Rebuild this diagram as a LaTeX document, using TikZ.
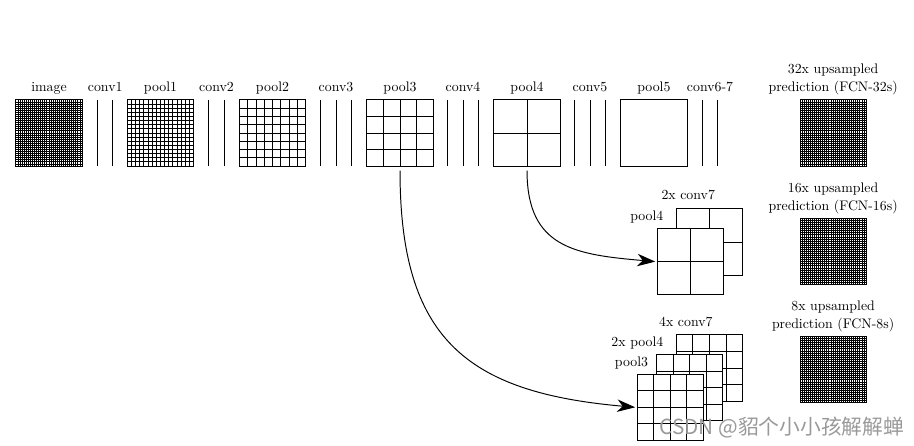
\documentclass[tikz,border=0pt]{standalone}
\usepackage{fontspec}
\newfontfamily\cjkfont{Noto Sans CJK SC}
\usetikzlibrary{arrows.meta, positioning, calc}

\begin{document}
\begin{tikzpicture}[
    >=Stealth,
    fmline/.style={line width=0.7pt},
    fmap/.style={rectangle, draw, fill=white, fmline, minimum size=1.68cm, inner sep=0pt},
    ncells/.style={path picture={
        \foreach \k in {1,...,#1} {
            \draw[fmline] ($(path picture bounding box.north west)!{\k/#1}!(path picture bounding box.north east)$)
                -- ($(path picture bounding box.south west)!{\k/#1}!(path picture bounding box.south east)$);
            \draw[fmline] ($(path picture bounding box.north west)!{\k/#1}!(path picture bounding box.south west)$)
                -- ($(path picture bounding box.north east)!{\k/#1}!(path picture bounding box.south east)$);
        }}},
    conv/.style={rectangle, minimum width=0.8cm, minimum height=1.68cm, inner sep=0pt},
    lbl/.style={text depth=0.5ex},
    arr/.style={-{Stealth[length=13pt, width=9pt, inset=4pt]}, line width=0.7pt, shorten <=3pt, shorten >=1pt},
]
\useasboundingbox (0,0) rectangle (23.215,11.328);

% the net, left to right
\node (image) at (1.245, 7.95) [fmap, ncells=32] {};
\node (conv1) at (2.672, 7.95) [conv] {};
\node (pool1) at (4.077, 7.95) [fmap, ncells=16] {};
\node (conv2) at (5.499, 7.95) [conv] {};
\node (pool2) at (6.922, 7.95) [fmap, ncells=8] {};
\node (conv3) at (8.534, 7.95) [conv] {};
\node (pool3) at (10.16, 7.95) [fmap, ncells=4] {};
\node (conv4) at (11.76, 7.95) [conv] {};
\node (pool4) at (13.386, 7.95) [fmap, ncells=2] {};
\node (conv5) at (14.986, 7.95) [conv] {};
\node (pool5) at (16.61, 7.95) [fmap, ncells=1] {};
\node (conv67) at (18.034, 7.95) [conv] {};

% conv layers as lines
\foreach \n/\m in {conv1/2, conv2/2, conv3/3, conv4/3, conv5/3, conv67/2}
    \foreach \k in {1,...,\m}
        \draw[fmline] ([xshift={(\k-(\m+1)/2)*0.39cm}]\n.north) -- ([xshift={(\k-(\m+1)/2)*0.39cm}]\n.south);

\foreach \n/\t in {image/image, conv1/conv1, pool1/pool1, conv2/conv2, pool2/pool2, conv3/conv3,
                   pool3/pool3, conv4/conv4, pool4/pool4, conv5/conv5, pool5/pool5, conv67/conv6-7}
    \node (\n-lbl) [lbl, above=0pt of \n] {\t};

% FCN-16s: pool4 + 2x conv7
\node (conv7b) at (18.03, 5.18) [fmap, ncells=2] {};
\node (pool4b) at (17.53, 4.68) [fmap, ncells=2] {};
\node (conv7b-lbl) at (17.48, 6.27) [anchor=base] {2x conv7};
\node (pool4b-lbl) at (16.43, 5.74) [anchor=base] {pool4};

% FCN-8s: pool3 + 2x pool4 + 4x conv7
\node (conv7c) at (18.02, 1.98) [fmap, ncells=4] {};
\node (pool4c) at (17.52, 1.48) [fmap, ncells=4] {};
\node (pool3c) at (17.02, 0.98) [fmap, ncells=4] {};
\node (conv7c-lbl) at (17.42, 3.03) [anchor=base] {4x conv7};
\node (pool4c-lbl) at (16.19, 2.52) [anchor=base] {2x pool4};
\node (pool3c-lbl) at (16.04, 2.03) [anchor=base] {pool3};

% predictions
\node (fcn32) at (21.16, 7.95) [fmap, ncells=32] {};
\node (fcn16) at (21.16, 4.94) [fmap, ncells=32] {};
\node (fcn8) at (21.16, 1.94) [fmap, ncells=32] {};
\node (fcn32-lbl) [lbl, align=center, above=0pt of fcn32] {32x upsampled\\[1pt]prediction (FCN-32s)};
\node (fcn16-lbl) [lbl, align=center, above=0pt of fcn16] {16x upsampled\\[1pt]prediction (FCN-16s)};
\node (fcn8-lbl) [lbl, align=center, above=0pt of fcn8] {8x upsampled\\[1pt]prediction (FCN-8s)};

% skips
\draw[arr] (pool3.south) to[out=-90, in=175, looseness=1.3] (pool3c.west);
\draw[arr] (pool4.south) to[out=-90, in=175, looseness=1.3] (pool4b.west);

\node (mark) at (19.86, 0.46) [text=black!40, font={\cjkfont\fontsize{15}{18}\selectfont}] {CSDN @貂个小小孩解解蝉};

\end{tikzpicture}
\end{document}
